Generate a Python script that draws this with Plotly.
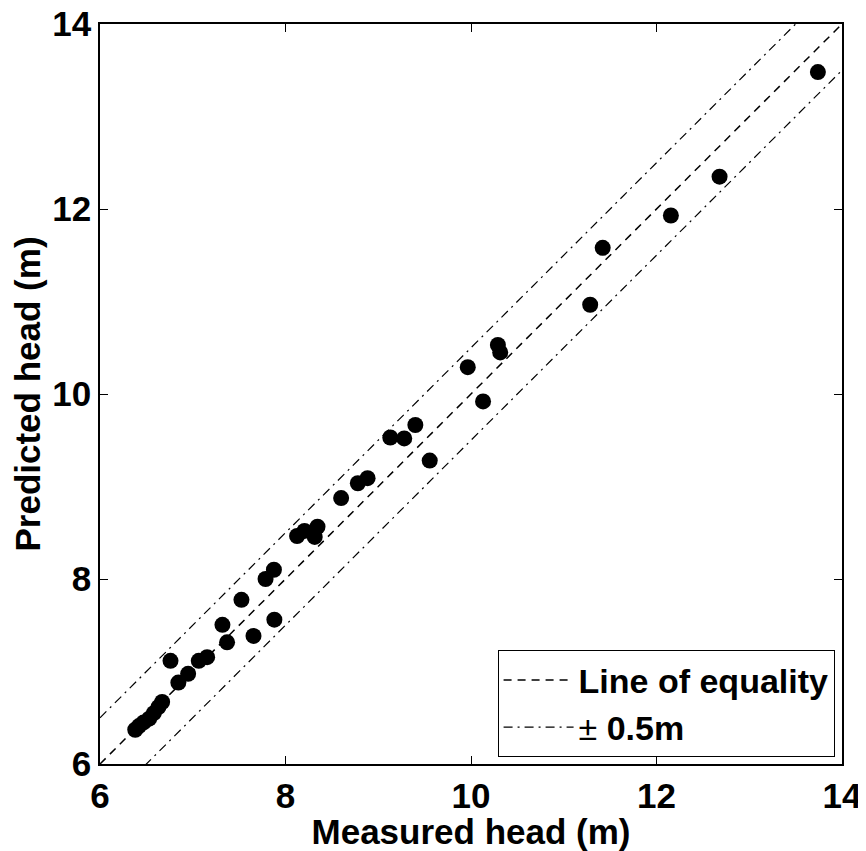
import plotly.graph_objects as go

measured = [13.74, 12.68, 12.155, 11.42, 11.285, 10.29, 10.315, 9.965, 10.13, 9.40,
            9.13, 9.28, 9.555, 8.885, 8.78, 8.60, 8.345, 8.205, 8.125, 8.315,
            7.875, 7.785, 7.525, 7.32, 7.88, 7.37, 7.655, 6.76, 7.155, 7.065,
            6.95, 6.845, 6.67, 6.63, 6.58, 6.53, 6.47, 6.42, 6.38]
predicted = [13.48, 12.35, 11.93, 11.58, 10.965, 10.53, 10.45, 10.29, 9.92, 9.665,
             9.53, 9.52, 9.28, 9.09, 9.035, 8.875, 8.565, 8.52, 8.465, 8.455,
             8.10, 8.00, 7.775, 7.505, 7.56, 7.315, 7.385, 7.115, 7.155, 7.115,
             6.975, 6.88, 6.67, 6.615, 6.55, 6.49, 6.45, 6.41, 6.37]

line_x = [6, 14]
band = 0.5
ticks = [6, 8, 10, 12, 14]

FONT = "Liberation Sans, Arial, sans-serif"
FS = 35

fig = go.Figure()
fig.add_trace(go.Scatter(x=measured, y=predicted, mode="markers",
                         marker=dict(color="black", size=16),
                         showlegend=False))
fig.add_trace(go.Scatter(x=line_x, y=line_x, mode="lines",
                         line=dict(color="black", width=1.5, dash="8px,6px"),
                         name="<b>Line of equality</b>"))
fig.add_trace(go.Scatter(x=line_x, y=[v + band for v in line_x], mode="lines",
                         line=dict(color="black", width=1.2, dash="9px,5px,2px,5px"),
                         name="± <b>0.5m</b>", legendgroup="band"))
fig.add_trace(go.Scatter(x=line_x, y=[v - band for v in line_x], mode="lines",
                         line=dict(color="black", width=1.2, dash="9px,5px,2px,5px"),
                         name="± 0.5m", legendgroup="band", showlegend=False))

axis_common = dict(range=[6, 14], tickvals=ticks, ticktext=[str(t) for t in ticks],
                   showgrid=False, zeroline=False, showline=True, linecolor="black",
                   linewidth=1.5, mirror="ticks", ticks="inside", ticklen=8,
                   tickcolor="black", tickwidth=1, automargin=False,
                   ticklabeloverflow="allow",
                   tickfont=dict(family=FONT, size=FS, color="black", weight="bold"))

fig.update_layout(
    width=858, height=843,
    margin=dict(l=92, r=24, t=16, b=87),
    paper_bgcolor="white", plot_bgcolor="white",
    xaxis=dict(**axis_common,
               title=dict(text="<b>Measured head (m)</b>", standoff=0,
                          font=dict(family=FONT, size=FS, color="black"))),
    yaxis=dict(**axis_common,
               title=dict(text="<b>Predicted head (m)</b>", standoff=11,
                          font=dict(family=FONT, size=FS, color="black"))),
    legend=dict(x=0.99, y=0.009, xanchor="right", yanchor="bottom",
                bgcolor="white", bordercolor="black", borderwidth=1,
                font=dict(family=FONT, size=34, color="black"),
                itemwidth=70, tracegroupgap=0),
    showlegend=True,
)

fig.write_html("out.html")
